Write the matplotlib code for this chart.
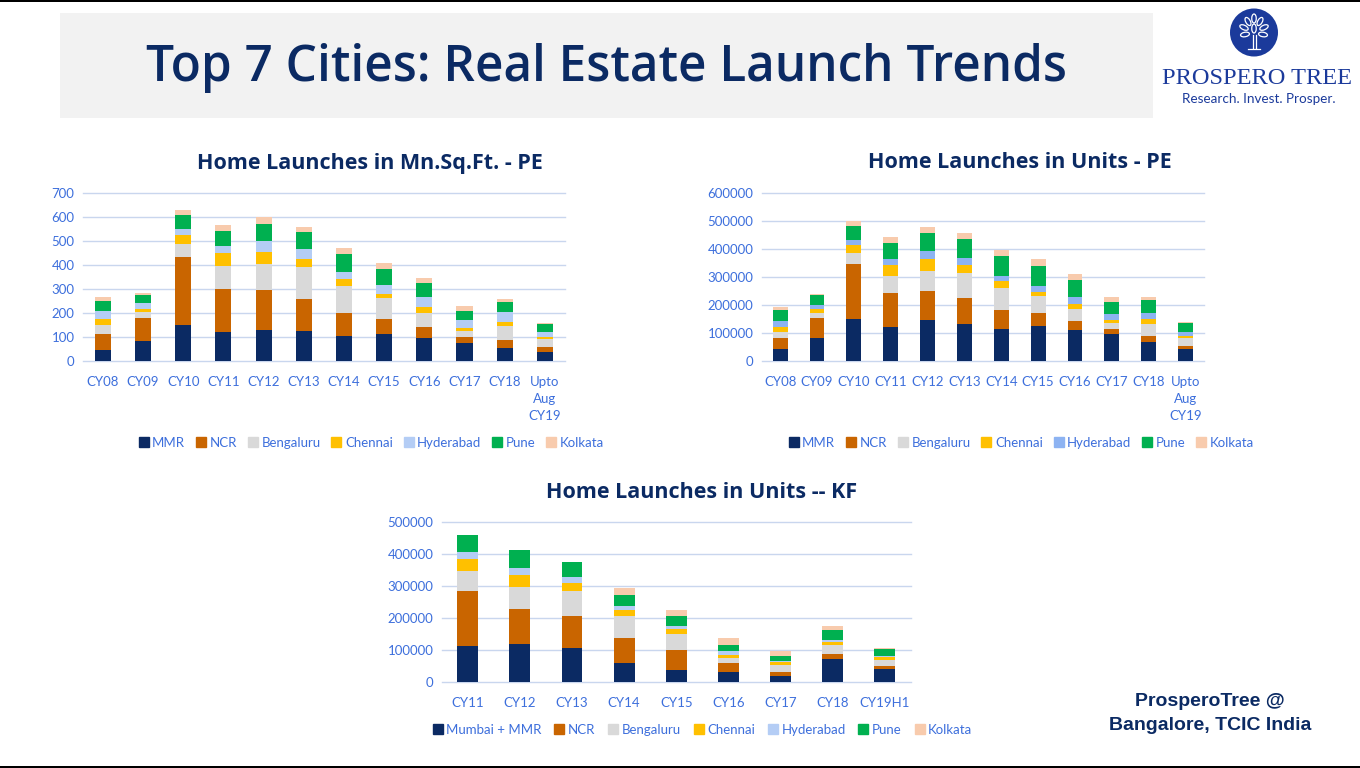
import matplotlib
matplotlib.use('Agg')
import matplotlib.pyplot as plt
from matplotlib.patches import Rectangle, Circle, Ellipse
from matplotlib.lines import Line2D
import numpy as np

# ---------------- data ----------------
years_pe = ['CY08', 'CY09', 'CY10', 'CY11', 'CY12', 'CY13', 'CY14', 'CY15',
            'CY16', 'CY17', 'CY18', 'Upto\nAug\nCY19']
years_kf = ['CY11', 'CY12', 'CY13', 'CY14', 'CY15', 'CY16', 'CY17', 'CY18', 'CY19H1']
cities_pe = ['MMR', 'NCR', 'Bengaluru', 'Chennai', 'Hyderabad', 'Pune', 'Kolkata']
cities_kf = ['Mumbai + MMR', 'NCR', 'Bengaluru', 'Chennai', 'Hyderabad', 'Pune', 'Kolkata']

# Home launches in Mn.Sq.Ft. - PE
sqft_mmr = [46, 84, 150, 121, 129, 125, 104, 113, 96, 75, 54, 38]
sqft_ncr = [67, 96, 284, 180, 167, 134, 96, 62, 46, 25, 34, 21]
sqft_blr = [37, 25, 54, 96, 109, 133, 113, 88, 58, 25, 58, 33]
sqft_chn = [25, 13, 38, 51, 51, 34, 29, 17, 25, 13, 17, 8]
sqft_hyd = [34, 25, 25, 32, 45, 42, 29, 37, 42, 33, 42, 21]
sqft_pun = [41, 33, 58, 63, 71, 71, 75, 67, 58, 38, 42, 33]
sqft_kol = [17, 8, 21, 25, 26, 21, 25, 25, 21, 21, 13, 4]

# Home launches in Units - PE
upe_mmr = [43000, 82000, 150000, 122000, 147000, 132000, 114500, 125000, 111000, 96600, 68000, 43000]
upe_ncr = [39000, 72000, 197000, 121000, 103500, 93500, 68000, 47000, 32000, 18000, 21500, 10700]
upe_blr = [22000, 18000, 39500, 61000, 71500, 89500, 78500, 60600, 43000, 21500, 43000, 28600]
upe_chn = [18000, 14000, 28500, 39500, 43000, 28500, 25000, 14400, 18000, 10700, 17600, 7200]
upe_hyd = [21000, 14000, 18000, 21500, 28600, 25000, 18000, 21400, 25000, 21500, 21800, 14300]
upe_pun = [39500, 36000, 50000, 57000, 64400, 68000, 71800, 71600, 61000, 43000, 46200, 32200]
upe_kol = [10500, 4000, 18000, 22000, 21500, 21400, 21500, 25000, 21000, 18000, 11000, 3600]

# Home launches in Units -- KF
ukf_mmr = [113000, 119000, 106500, 59500, 37600, 31300, 18800, 72000, 40700]
ukf_ncr = [172000, 109600, 100000, 78300, 62400, 28200, 12500, 15700, 9400]
ukf_blr = [63000, 69000, 78300, 69000, 50000, 15500, 21900, 28200, 18800]
ukf_chn = [37000, 37500, 25000, 18800, 16000, 9600, 9400, 9400, 9400]
ukf_hyd = [22000, 22000, 18800, 12500, 9400, 12400, 3200, 6200, 3100]
ukf_pun = [53000, 56400, 47000, 34400, 31300, 18900, 15600, 31300, 21900]
ukf_kol = [0, 0, 0, 22000, 18800, 21900, 15600, 12600, 3100]

# ---------------- style ----------------
W, H = 1360, 768
NAVY = '#0b2a63'
LOGO = '#1b3a9b'
TICK = '#3d6fdc'
GRID = '#c9d6ee'
colors1 = ['#0b2a63', '#c96500', '#d9d9d9', '#ffc000', '#b4cdf5', '#00b050', '#f8cbad']
colors2 = ['#0b2a63', '#c96500', '#d9d9d9', '#ffc000', '#8db3f2', '#00b050', '#f8cbad']
LBL_FONT = ['Lato', 'DejaVu Sans']
TTL_FONT = ['Open Sans', 'DejaVu Sans']

fig = plt.figure(figsize=(13.6, 7.68), dpi=100)
fig.patch.set_facecolor('white')
renderer = fig.canvas.get_renderer()

bg = fig.add_axes([0, 0, 1, 1], zorder=0)
bg.set_xlim(0, W)
bg.set_ylim(H, 0)
bg.axis('off')


def fit_text(ax, x, y, s, width_px, **kw):
    t = ax.text(x, y, s, **kw)
    fs = t.get_fontsize()
    w = t.get_window_extent(renderer=renderer).width
    t.set_fontsize(fs * width_px / w)
    return t


# header box and frame lines
bg.add_patch(Rectangle((60, 13), 1093, 105, color='#f2f2f2', lw=0))
bg.add_patch(Rectangle((0, 0), W, 2, color='black', lw=0))
bg.add_patch(Rectangle((0, 766), W, 2, color='black', lw=0))
fit_text(bg, 606, 68, 'Top 7 Cities: Real Estate Launch Trends', 923,
         ha='center', va='center', color=NAVY, fontsize=36,
         family=TTL_FONT, weight='semibold')

# logo
cx, cy = 1254, 32.5
bg.add_patch(Circle((cx, cy), 24, color=LOGO, lw=0))
leaf_kw = dict(fill=False, ec='white', lw=0.9)
for (dx, dy, ang) in [(0, -14, 90), (-6, -11, 60), (6, -11, 120), (-10, -5, 25),
                      (10, -5, 155), (-9, 2, -10), (9, 2, 190), (0, -4, 90)]:
    bg.add_patch(Ellipse((cx + dx, cy + dy), 9, 4.5, angle=ang, **leaf_kw))
bg.plot([cx - 1.5, cx - 1.5], [cy + 2, cy + 15], color='white', lw=0.9)
bg.plot([cx + 1.5, cx + 1.5], [cy + 2, cy + 15], color='white', lw=0.9)
bg.plot([cx - 6, cx + 6], [cy + 16, cy + 16], color='white', lw=0.9)
fit_text(bg, 1257, 79, 'PROSPERO TREE', 190, ha='center', va='center',
         color=LOGO, fontsize=17, family=['Liberation Serif', 'DejaVu Serif'])
fit_text(bg, 1258.5, 99, 'Research. Invest. Prosper.', 153, ha='center', va='center',
         color=LOGO, fontsize=10, family=LBL_FONT)

# footer
bg.text(1210, 702, 'ProsperoTree @', ha='center', va='center', color=NAVY,
        fontsize=14, weight='bold', family=['Liberation Sans Narrow', 'Liberation Sans'])
bg.text(1210, 725, 'Bangalore, TCIC India', ha='center', va='center', color=NAVY,
        fontsize=14, weight='bold', family=['Liberation Sans Narrow', 'Liberation Sans'])


def add_axes_px(left, right, top, bottom):
    return fig.add_axes([left / W, 1 - bottom / H, (right - left) / W, (bottom - top) / H], zorder=2)


def stacked(ax, cats, series, colors, ymax, step):
    x = np.arange(len(cats))
    base = np.zeros(len(cats))
    for vals, c in zip(series, colors):
        ax.bar(x, vals, 0.4, bottom=base, color=c, lw=0, zorder=3)
        base += np.array(vals, dtype=float)
    ax.set_xlim(-0.5, len(cats) - 0.5)
    ax.set_ylim(0, ymax)
    ax.set_yticks(np.arange(0, ymax + 1, step))
    ax.set_xticks(x)
    ax.set_xticklabels(cats, linespacing=1.5)
    ax.grid(axis='y', color=GRID, lw=1, zorder=0)
    for gl in ax.get_ygridlines():
        gl.set_clip_on(False)
    for s in ax.spines.values():
        s.set_visible(False)
    ax.tick_params(axis='both', length=0, colors=TICK, labelsize=9.5)
    ax.tick_params(axis='x', pad=10.5)
    ax.tick_params(axis='y', pad=6)
    for lab in ax.get_xticklabels() + ax.get_yticklabels():
        lab.set_family(LBL_FONT)
    ax.set_facecolor('none')


def legend(labels, colors, xc, yc, spacing):
    handles = [Line2D([], [], marker='s', ls='', color=c, markersize=7) for c in colors]
    fig.legend(handles, labels, loc='center', bbox_to_anchor=(xc / W, 1 - yc / H),
               ncol=len(labels), frameon=False, handletextpad=0.2, columnspacing=spacing,
               handlelength=0.9, prop={'family': LBL_FONT, 'size': 9.5}, labelcolor=TICK)


# chart 1
ax1 = add_axes_px(82.7, 565, 193, 361)
stacked(ax1, years_pe, [sqft_mmr, sqft_ncr, sqft_blr, sqft_chn, sqft_hyd, sqft_pun, sqft_kol],
        colors1, 700, 100)
bg.text(370, 163, 'Home Launches in Mn.Sq.Ft. - PE', ha='center', va='center',
        color=NAVY, fontsize=15.5, weight='bold', family=TTL_FONT)
legend(cities_pe, colors1, 371, 443, 0.75)

# chart 2
ax2 = add_axes_px(761.7, 1204, 193, 361)
stacked(ax2, years_pe, [upe_mmr, upe_ncr, upe_blr, upe_chn, upe_hyd, upe_pun, upe_kol],
        colors2, 600000, 100000)
bg.text(1020, 163, 'Home Launches in Units - PE', ha='center', va='center',
        color=NAVY, fontsize=15.5, weight='bold', family=TTL_FONT)
legend(cities_pe, colors2, 1021, 443, 0.75)

# chart 3
ax3 = add_axes_px(441.7, 910.7, 522.3, 682)
stacked(ax3, years_kf, [ukf_mmr, ukf_ncr, ukf_blr, ukf_chn, ukf_hyd, ukf_pun, ukf_kol],
        colors1, 500000, 100000)
bg.text(702, 492, 'Home Launches in Units -- KF', ha='center', va='center',
        color=NAVY, fontsize=15.5, weight='bold', family=TTL_FONT)
legend(cities_kf, colors1, 702, 730, 0.9)

fig.savefig('out.png', dpi=100)
